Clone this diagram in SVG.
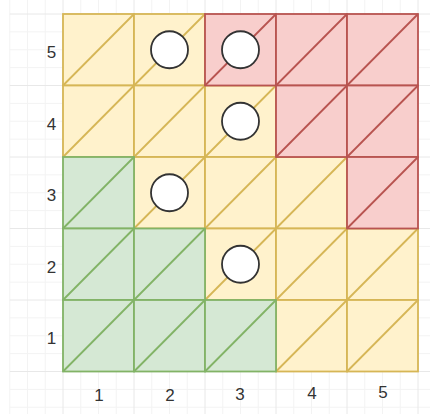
<svg xmlns="http://www.w3.org/2000/svg" width="430" height="414" viewBox="0 0 430 414">
<style>
.minor{stroke:#f3f3f3;stroke-width:1;fill:none}
.major{stroke:#e8e8e8;stroke-width:1;fill:none}
.y rect,.y line{fill:#fff2cc;stroke:#d6b656;stroke-width:1.8}
.g rect,.g line{fill:#d5e8d4;stroke:#82b366;stroke-width:1.8}
.r rect,.r line{fill:#f8cecc;stroke:#b85450;stroke-width:1.8}
.tok{fill:#ffffff;stroke:#333333;stroke-width:1.8}
.lbl{font-family:"Liberation Sans",Arial,sans-serif;font-size:17px;fill:#333333;text-anchor:middle}
</style>
<rect width="430" height="414" fill="#ffffff"/>
<g id="background-grid">
<path class="minor" d="M9.75 0V414M27.5 0V414M45.25 0V414M80.75 0V414M98.5 0V414M116.25 0V414M151.75 0V414M169.5 0V414M187.25 0V414M222.75 0V414M240.5 0V414M258.25 0V414M293.75 0V414M311.5 0V414M329.25 0V414M364.75 0V414M382.5 0V414M400.25 0V414M9.75 31.875H430M9.75 49.75H430M9.75 67.625H430M9.75 103.375H430M9.75 121.25H430M9.75 139.125H430M9.75 174.875H430M9.75 192.75H430M9.75 210.625H430M9.75 246.375H430M9.75 264.25H430M9.75 282.125H430M9.75 317.875H430M9.75 335.75H430M9.75 353.625H430M9.75 389.375H430M9.75 407.25H430"/>
<path class="major" d="M63 0V414M134 0V414M205 0V414M276 0V414M347 0V414M418 0V414M9.75 14H430M9.75 85.5H430M9.75 157H430M9.75 228.5H430M9.75 300H430M9.75 371.5H430"/>
</g>
<g id="cells">
<g id="cell-r5c1" class="y"><rect x="63" y="14" width="71" height="71.5"/><line x1="63" y1="85.5" x2="134" y2="14"/></g>
<g id="cell-r5c2" class="y"><rect x="134" y="14" width="71" height="71.5"/><line x1="134" y1="85.5" x2="205" y2="14"/></g>
<g id="cell-r4c1" class="y"><rect x="63" y="85.5" width="71" height="71.5"/><line x1="63" y1="157" x2="134" y2="85.5"/></g>
<g id="cell-r4c2" class="y"><rect x="134" y="85.5" width="71" height="71.5"/><line x1="134" y1="157" x2="205" y2="85.5"/></g>
<g id="cell-r4c3" class="y"><rect x="205" y="85.5" width="71" height="71.5"/><line x1="205" y1="157" x2="276" y2="85.5"/></g>
<g id="cell-r3c2" class="y"><rect x="134" y="157" width="71" height="71.5"/><line x1="134" y1="228.5" x2="205" y2="157"/></g>
<g id="cell-r3c3" class="y"><rect x="205" y="157" width="71" height="71.5"/><line x1="205" y1="228.5" x2="276" y2="157"/></g>
<g id="cell-r3c4" class="y"><rect x="276" y="157" width="71" height="71.5"/><line x1="276" y1="228.5" x2="347" y2="157"/></g>
<g id="cell-r2c3" class="y"><rect x="205" y="228.5" width="71" height="71.5"/><line x1="205" y1="300" x2="276" y2="228.5"/></g>
<g id="cell-r2c4" class="y"><rect x="276" y="228.5" width="71" height="71.5"/><line x1="276" y1="300" x2="347" y2="228.5"/></g>
<g id="cell-r2c5" class="y"><rect x="347" y="228.5" width="71" height="71.5"/><line x1="347" y1="300" x2="418" y2="228.5"/></g>
<g id="cell-r1c4" class="y"><rect x="276" y="300" width="71" height="71.5"/><line x1="276" y1="371.5" x2="347" y2="300"/></g>
<g id="cell-r1c5" class="y"><rect x="347" y="300" width="71" height="71.5"/><line x1="347" y1="371.5" x2="418" y2="300"/></g>
<g id="cell-r3c1" class="g"><rect x="63" y="157" width="71" height="71.5"/><line x1="63" y1="228.5" x2="134" y2="157"/></g>
<g id="cell-r2c1" class="g"><rect x="63" y="228.5" width="71" height="71.5"/><line x1="63" y1="300" x2="134" y2="228.5"/></g>
<g id="cell-r2c2" class="g"><rect x="134" y="228.5" width="71" height="71.5"/><line x1="134" y1="300" x2="205" y2="228.5"/></g>
<g id="cell-r1c1" class="g"><rect x="63" y="300" width="71" height="71.5"/><line x1="63" y1="371.5" x2="134" y2="300"/></g>
<g id="cell-r1c2" class="g"><rect x="134" y="300" width="71" height="71.5"/><line x1="134" y1="371.5" x2="205" y2="300"/></g>
<g id="cell-r1c3" class="g"><rect x="205" y="300" width="71" height="71.5"/><line x1="205" y1="371.5" x2="276" y2="300"/></g>
<g id="cell-r5c3" class="r"><rect x="205" y="14" width="71" height="71.5"/><line x1="205" y1="85.5" x2="276" y2="14"/></g>
<g id="cell-r5c4" class="r"><rect x="276" y="14" width="71" height="71.5"/><line x1="276" y1="85.5" x2="347" y2="14"/></g>
<g id="cell-r5c5" class="r"><rect x="347" y="14" width="71" height="71.5"/><line x1="347" y1="85.5" x2="418" y2="14"/></g>
<g id="cell-r4c4" class="r"><rect x="276" y="85.5" width="71" height="71.5"/><line x1="276" y1="157" x2="347" y2="85.5"/></g>
<g id="cell-r4c5" class="r"><rect x="347" y="85.5" width="71" height="71.5"/><line x1="347" y1="157" x2="418" y2="85.5"/></g>
<g id="cell-r3c5" class="r"><rect x="347" y="157" width="71" height="71.5"/><line x1="347" y1="228.5" x2="418" y2="157"/></g>
</g>
<g id="connectors"></g>
<g id="tokens">
<g id="token-r5c2"><circle class="tok" cx="169.5" cy="49.75" r="18.5"/></g>
<g id="token-r5c3"><circle class="tok" cx="240.5" cy="49.75" r="18.5"/></g>
<g id="token-r4c3"><circle class="tok" cx="240.5" cy="121.25" r="18.5"/></g>
<g id="token-r3c2"><circle class="tok" cx="169.5" cy="192.75" r="18.5"/></g>
<g id="token-r2c3"><circle class="tok" cx="240.5" cy="264.25" r="18.5"/></g>
</g>
<g id="row-labels">
<text class="lbl" x="51.5" y="58.25">5</text>
<text class="lbl" x="51.5" y="129.75">4</text>
<text class="lbl" x="51.5" y="201.25">3</text>
<text class="lbl" x="51.5" y="272.75">2</text>
<text class="lbl" x="51.5" y="344.25">1</text>
</g>
<g id="column-labels">
<text class="lbl" x="99" y="401">1</text>
<text class="lbl" x="170" y="401">2</text>
<text class="lbl" x="240" y="400">3</text>
<text class="lbl" x="312" y="399">4</text>
<text class="lbl" x="383" y="397.7">5</text>
</g>
</svg>
